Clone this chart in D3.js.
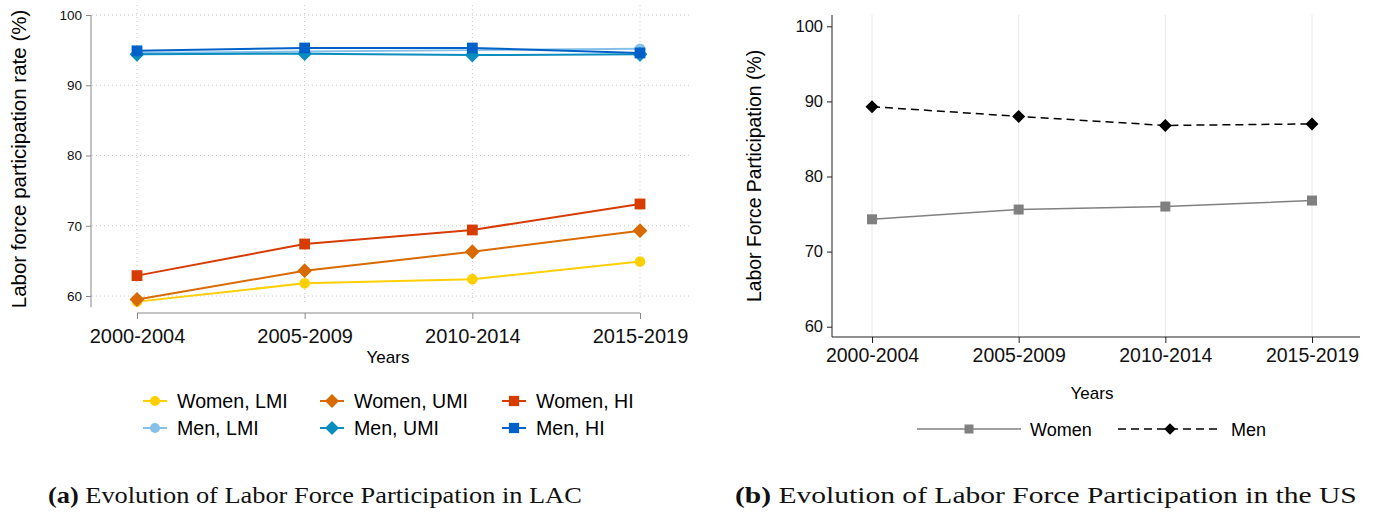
<!DOCTYPE html>
<html>
<head>
<meta charset="utf-8" />
<title>Labor Force Participation</title>
<script src="https://d3js.org/d3.v7.min.js"></script>
<style>
    body { margin: 0; background: #fff; }
    svg { display: block; font-family: "Liberation Sans", Arial, sans-serif; }
    .cap { font-family: "Liberation Serif", "Times New Roman", serif; }
</style>
</head>
<body>
<div id="holder"></div>
<script>
    //Data
    const periods = ["2000-2004", "2005-2009", "2010-2014", "2015-2019"];
    const yTicks = [60, 70, 80, 90, 100];

    // panel (a): LAC
    const womenLMI = [59.2, 61.8, 62.4, 64.9];
    const womenUMI = [59.5, 63.6, 66.3, 69.3];
    const womenHI = [62.9, 67.4, 69.4, 73.1];
    const menLMI = [94.6, 94.8, 95.0, 95.2];
    const menUMI = [94.4, 94.5, 94.3, 94.4];
    const menHI = [94.9, 95.3, 95.3, 94.6];

    // panel (b): US
    const usWomen = [74.3, 75.6, 76.0, 76.8];
    const usMen = [89.3, 88.0, 86.8, 87.0];

    const w = 1375;
    const h = 513;

    const svg = d3.select("#holder")
        .append("svg")
        .attr("width", w)
        .attr("height", h);

    // marker drawing helper
    function marker(g, shape, x, y, size, color) {
        if (shape === "circle") {
            g.append("circle").attr("cx", x).attr("cy", y).attr("r", size).attr("fill", color);
        } else if (shape === "square") {
            g.append("rect").attr("x", x - size).attr("y", y - size)
                .attr("width", size * 2).attr("height", size * 2).attr("fill", color);
        } else {
            g.append("path")
                .attr("d", `M${x},${y - size}L${x + size},${y}L${x},${y + size}L${x - size},${y}Z`)
                .attr("fill", color);
        }
    }

    //---------------- Panel (a) ----------------
    const a = svg.append("g");
    const xA = d3.scalePoint().domain(periods).range([137, 640]);
    const yA = d3.scaleLinear().domain([60, 100]).range([296, 15]);

    // dotted grid
    a.selectAll(".hg").data(yTicks).enter().append("line")
        .attr("x1", 92).attr("x2", 690)
        .attr("y1", d => yA(d)).attr("y2", d => yA(d))
        .attr("stroke", "#c8c8c8").attr("stroke-width", 1).attr("stroke-dasharray", "1,3");
    a.selectAll(".vg").data(periods).enter().append("line")
        .attr("x1", d => xA(d)).attr("x2", d => xA(d))
        .attr("y1", 5).attr("y2", 303)
        .attr("stroke", "#c8c8c8").attr("stroke-width", 1).attr("stroke-dasharray", "1,3");

    // y axis
    const yAxisA = d3.axisLeft(yA).tickValues(yTicks).tickSize(5).tickPadding(4);
    const gyA = a.append("g").attr("transform", "translate(91,0)").call(yAxisA);
    gyA.select(".domain").attr("d", `M0,${yA(100)}V${yA(58.4)}`).attr("stroke", "#888");
    gyA.selectAll(".tick line").attr("stroke", "#888");
    gyA.selectAll("text").attr("font-size", 13.5).attr("fill", "#111")
        .attr("font-family", "'Liberation Sans Narrow', 'Liberation Sans', Arial, sans-serif");

    // x axis
    const xAxisA = d3.axisBottom(xA).tickSize(6).tickPadding(10);
    const gxA = a.append("g").attr("transform", "translate(0,313)").call(xAxisA);
    gxA.select(".domain").attr("d", `M${xA(periods[0])},0H${xA(periods[3])}`).attr("stroke", "#888");
    gxA.selectAll(".tick line").attr("stroke", "#888").attr("y1", 0).attr("y2", 6);
    gxA.selectAll("text").attr("font-size", 20).attr("fill", "#111");

    a.append("text")
        .attr("x", 388).attr("y", 363)
        .attr("text-anchor", "middle").attr("font-size", 17)
        .text("Years");

    a.append("text")
        .attr("transform", "translate(26,159) rotate(-90)")
        .attr("text-anchor", "middle").attr("font-size", 20.5)
        .text("Labor force participation rate (%)");

    const seriesA = [
        { name: "Women, LMI", vals: womenLMI, color: "#ffcf00", shape: "circle", size: 5.3 },
        { name: "Women, UMI", vals: womenUMI, color: "#d86a00", shape: "diamond", size: 7.4 },
        { name: "Women, HI", vals: womenHI, color: "#d63c00", shape: "square", size: 5.4 },
        { name: "Men, LMI", vals: menLMI, color: "#86c0e9", shape: "circle", size: 5.3 },
        { name: "Men, UMI", vals: menUMI, color: "#0a8dbf", shape: "diamond", size: 7.4 },
        { name: "Men, HI", vals: menHI, color: "#0062c9", shape: "square", size: 5.4 }
    ];

    const lineA = d3.line().x((d, i) => xA(periods[i])).y(d => yA(d));
    seriesA.forEach(s => {
        a.append("path")
            .attr("d", lineA(s.vals))
            .attr("fill", "none")
            .attr("stroke", s.color)
            .attr("stroke-width", 2);
        s.vals.forEach((v, i) => marker(a, s.shape, xA(periods[i]), yA(v), s.size, s.color));
    });

    // legend (a)
    const legColX = [143, 320, 502];
    const legRowY = [401, 428];
    seriesA.forEach((s, i) => {
        const lx = legColX[i % 3];
        const ly = legRowY[Math.floor(i / 3)];
        a.append("line")
            .attr("x1", lx).attr("x2", lx + 24)
            .attr("y1", ly).attr("y2", ly)
            .attr("stroke", s.color).attr("stroke-width", 2);
        marker(a, s.shape, lx + 12, ly, s.size * 0.95, s.color);
        a.append("text")
            .attr("x", lx + 34).attr("y", ly + 7)
            .attr("font-size", 19.6)
            .text(s.name);
    });

    //---------------- Panel (b) ----------------
    const b = svg.append("g");
    const xB = d3.scalePoint().domain(periods).range([872, 1312]);
    const yB = d3.scaleLinear().domain([60, 100]).range([326.7, 26.3]);

    b.selectAll(".vg").data(periods).enter().append("line")
        .attr("x1", d => xB(d)).attr("x2", d => xB(d))
        .attr("y1", 15).attr("y2", 337)
        .attr("stroke", "#e6e6e6").attr("stroke-width", 1);

    const yAxisB = d3.axisLeft(yB).tickValues(yTicks).tickSize(5).tickPadding(4);
    const gyB = b.append("g").attr("transform", "translate(832,0)").call(yAxisB);
    gyB.select(".domain").attr("d", "M0,15V337").attr("stroke", "#222");
    gyB.selectAll(".tick line").attr("stroke", "#222");
    gyB.selectAll("text").attr("font-size", 16.5).attr("fill", "#111");

    const xAxisB = d3.axisBottom(xB).tickSize(6).tickPadding(5);
    const gxB = b.append("g").attr("transform", "translate(0,337)").call(xAxisB);
    gxB.select(".domain").attr("d", "M832,0H1360").attr("stroke", "#222");
    gxB.selectAll(".tick line").attr("stroke", "#222");
    gxB.selectAll("text").attr("font-size", 19.5).attr("fill", "#111");

    b.append("text")
        .attr("x", 1092).attr("y", 399)
        .attr("text-anchor", "middle").attr("font-size", 17)
        .text("Years");

    b.append("text")
        .attr("transform", "translate(761,176) rotate(-90)")
        .attr("text-anchor", "middle").attr("font-size", 19.4)
        .text("Labor Force Participation (%)");

    const seriesB = [
        { name: "Women", vals: usWomen, color: "#808080", shape: "square", size: 5, dash: null, width: 1.5 },
        { name: "Men", vals: usMen, color: "#000000", shape: "diamond", size: 6.5, dash: "8,5", width: 1.5 }
    ];

    const lineB = d3.line().x((d, i) => xB(periods[i])).y(d => yB(d));
    seriesB.forEach(s => {
        b.append("path")
            .attr("d", lineB(s.vals))
            .attr("fill", "none")
            .attr("stroke", s.color)
            .attr("stroke-width", s.width)
            .attr("stroke-dasharray", s.dash);
        s.vals.forEach((v, i) => marker(b, s.shape, xB(periods[i]), yB(v), s.size, s.color));
    });

    // legend (b)
    const legBX = [917, 1118];
    seriesB.forEach((s, i) => {
        const lx = legBX[i];
        const ly = 429;
        b.append("line")
            .attr("x1", lx).attr("x2", lx + 104)
            .attr("y1", ly).attr("y2", ly)
            .attr("stroke", s.color).attr("stroke-width", s.width)
            .attr("stroke-dasharray", s.dash);
        marker(b, s.shape, lx + 52, ly, s.size * 0.9, s.color);
        b.append("text")
            .attr("x", lx + 113).attr("y", ly + 6.5)
            .attr("font-size", 18)
            .text(s.name);
    });

    //---------------- Captions ----------------
    // serif captions, stretched a little sideways to the width of the original
    const caps = [
        { tag: "(a)", text: " Evolution of Labor Force Participation in LAC", x: 48, len: 534 },
        { tag: "(b)", text: " Evolution of Labor Force Participation in the US", x: 735, len: 622 }
    ];
    caps.forEach(c => {
        const t = svg.append("text")
            .attr("class", "cap")
            .attr("x", 0).attr("y", 0)
            .attr("font-size", 24)
            .attr("fill", "#111");
        t.append("tspan").attr("font-weight", "bold").text(c.tag);
        t.append("tspan").text(c.text);
        const k = c.len / t.node().getComputedTextLength();
        t.attr("transform", `translate(${c.x},503) scale(${k},1)`);
    });
</script>
</body>
</html>
